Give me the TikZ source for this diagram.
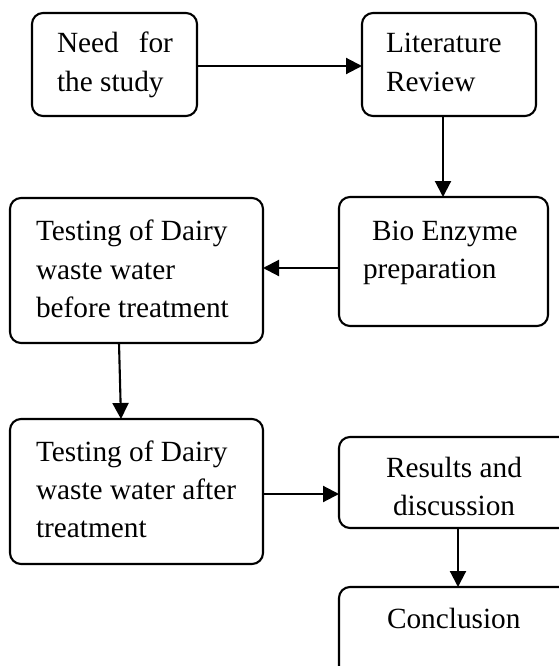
\documentclass[tikz,border=0pt]{standalone}
\usepackage{fontspec}
\setmainfont{Liberation Serif}
\usetikzlibrary{arrows.meta}
\begin{document}
\begin{tikzpicture}[x=1pt,y=-1pt,
  box/.style={draw, line width=2.1pt, rounded corners=11pt, inner sep=0pt, outer sep=0pt},
  txt/.style={anchor=base west, inner sep=0pt, outer sep=0pt, font=\fontsize{29.3}{38}\selectfont},
  arr/.style={line width=2.1pt, -{Triangle[width=16pt,length=16pt]}}]
\useasboundingbox (0,0) rectangle (559,666);
\clip (0,0) rectangle (559,666);
\node[box, minimum width=165pt, minimum height=103pt] (b1) at (114.5,64.5) {};
\node[box, minimum width=174pt, minimum height=103pt] (b2) at (449,64.5) {};
\node[box, minimum width=209pt, minimum height=129pt] (b3) at (443.5,261.5) {};
\node[box, minimum width=253pt, minimum height=145pt] (b4) at (136.5,270.5) {};
\node[box, minimum width=253pt, minimum height=145pt] (b5) at (136.5,491.5) {};
\node[box, minimum width=236pt, minimum height=91pt] (b6) at (457,482.5) {};
\node[box, minimum width=236pt, minimum height=103pt] (b7) at (457,638.5) {};
% texts
\node[txt] (t1a) at (57,53) {\makebox[116pt][s]{Need for}};
\node[txt] (t1b) at (57,92) {the study};
\node[txt] (t2a) at (386,53) {Literature};
\node[txt] (t2b) at (386,92) {Review};
\node[txt] (t3a) at (372,240) {Bio Enzyme};
\node[txt] (t3b) at (363,278) {preparation};
\node[txt] (t4a) at (36,240) {Testing of Dairy};
\node[txt] (t4b) at (36,279) {waste water};
\node[txt] (t4c) at (36,317) {before treatment};
\node[txt] (t5a) at (36,461) {Testing of Dairy};
\node[txt] (t5b) at (36,499) {waste water after};
\node[txt] (t5c) at (36,537) {treatment};
\node[txt] (t6a) at (386,477) {Results and};
\node[txt] (t6b) at (393,515) {discussion};
\node[txt] (t7) at (387,628) {Conclusion};
% arrows
\draw[arr] ([yshift=-1.5pt]b1.east) -- ([yshift=-1.5pt]b2.west);
\draw[arr] ([xshift=-6pt]b2.south) -- ([xshift=-0.5pt]b3.north);
\draw[arr] ([yshift=-6.5pt]b3.west) -- ([yshift=2.5pt]b4.east);
\draw[arr] ([xshift=-17.5pt]b4.south) -- ([xshift=-15.5pt]b5.north);
\draw[arr] ([yshift=-2.5pt]b5.east) -- ([yshift=-11.5pt]b6.west);
\draw[arr] ([xshift=1pt]b6.south) -- ([xshift=1pt]b7.north);
\end{tikzpicture}
\end{document}
